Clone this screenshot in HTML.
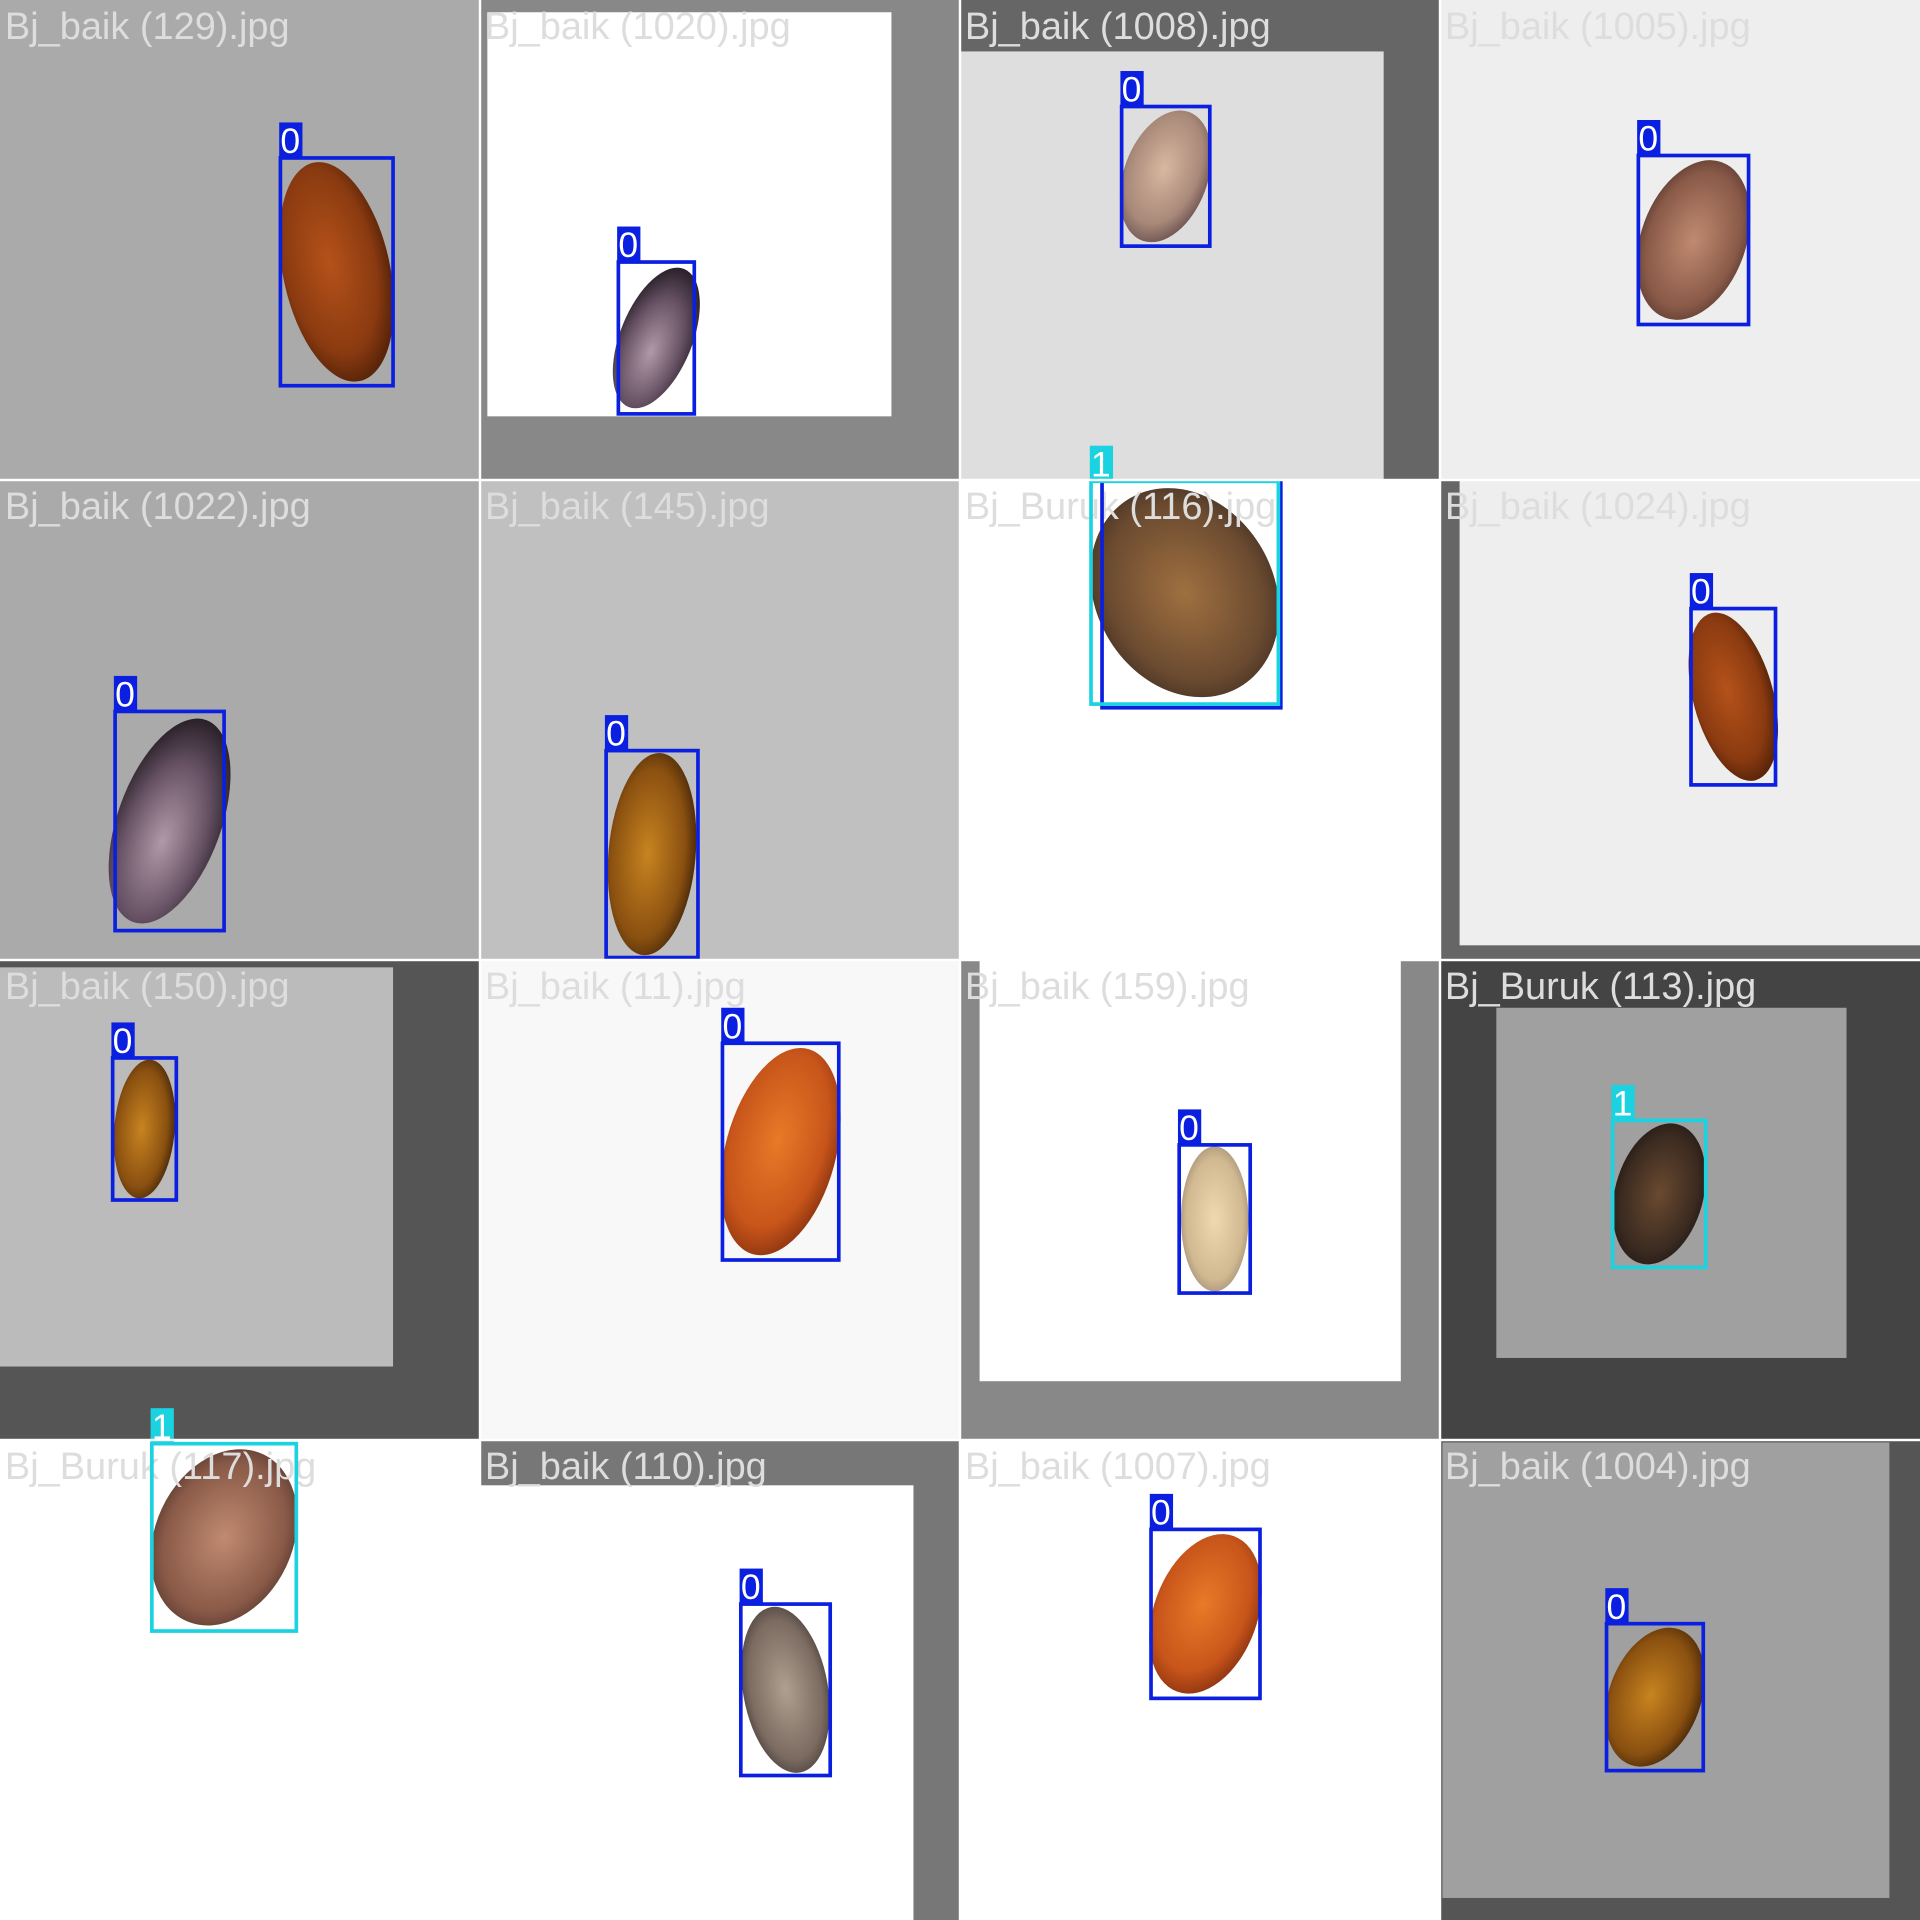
<!DOCTYPE html>
<html><head><meta charset="utf-8"><style>
html,body{margin:0;padding:0;background:#fff;width:1920px;height:1920px;overflow:hidden}
svg{display:block}
text{font-family:"Liberation Sans",Arial,sans-serif}
</style></head><body>
<svg id="mosaic" width="1920" height="1920" viewBox="0 0 1568 1568" xmlns="http://www.w3.org/2000/svg">
<defs>
<radialGradient id="gBrown" cx="45%" cy="45%" r="60%"><stop offset="0" stop-color="#b5521a"/><stop offset="0.7" stop-color="#8a3a10"/><stop offset="1" stop-color="#4a1e08"/></radialGradient>
<radialGradient id="gOrange" cx="45%" cy="45%" r="60%"><stop offset="0" stop-color="#e87a28"/><stop offset="0.7" stop-color="#c8551a"/><stop offset="1" stop-color="#8a3210"/></radialGradient>
<radialGradient id="gPink" cx="45%" cy="45%" r="60%"><stop offset="0" stop-color="#d8b8a0"/><stop offset="0.7" stop-color="#a88878"/><stop offset="1" stop-color="#6a5050"/></radialGradient>
<radialGradient id="gDark" cx="50%" cy="60%" r="60%"><stop offset="0" stop-color="#b09aa8"/><stop offset="0.6" stop-color="#6a5568"/><stop offset="1" stop-color="#2a2028"/></radialGradient>
<radialGradient id="gAmber" cx="45%" cy="50%" r="60%"><stop offset="0" stop-color="#c88420"/><stop offset="0.7" stop-color="#8a5010"/><stop offset="1" stop-color="#3a2008"/></radialGradient>
<radialGradient id="gBeige" cx="50%" cy="50%" r="60%"><stop offset="0" stop-color="#f0d8b0"/><stop offset="0.7" stop-color="#d0b890"/><stop offset="1" stop-color="#908070"/></radialGradient>
<radialGradient id="gMud" cx="50%" cy="50%" r="60%"><stop offset="0" stop-color="#a07040"/><stop offset="0.7" stop-color="#6a4a30"/><stop offset="1" stop-color="#3a2a20"/></radialGradient>
<radialGradient id="gBlack" cx="50%" cy="50%" r="60%"><stop offset="0" stop-color="#6a4a30"/><stop offset="0.7" stop-color="#3a2a20"/><stop offset="1" stop-color="#1a1410"/></radialGradient>
<radialGradient id="gRosy" cx="50%" cy="50%" r="60%"><stop offset="0" stop-color="#c08a70"/><stop offset="0.7" stop-color="#8a5a48"/><stop offset="1" stop-color="#4a3028"/></radialGradient>
<radialGradient id="gGrey" cx="50%" cy="50%" r="60%"><stop offset="0" stop-color="#b0a090"/><stop offset="0.7" stop-color="#7a6a60"/><stop offset="1" stop-color="#3a3030"/></radialGradient>
</defs>
<g id="tiles"></g>
</svg>
<script>
const NS='http://www.w3.org/2000/svg';
const root=document.getElementById('tiles');
function mk(tag,attrs,parent){const e=document.createElementNS(NS,tag);for(const k in attrs)e.setAttribute(k,attrs[k]);parent.appendChild(e);return e;}
const tiles=[
 [0,0,'#aaaaaa',null,'Bj_baik (129).jpg',[[229,129,321,315,'0','gBrown',-12]]],
 [1,0,'#888888',[398,10,728,340,'#ffffff'],'Bj_baik (1020).jpg',[[505,214,567,338,'0','gDark',22]]],
 [2,0,'#666666',[784,42,1130,392,'#dedede'],'Bj_baik (1008).jpg',[[916,87,988,201,'0','gPink',20]]],
 [3,0,'#eeeeee',null,'Bj_baik (1005).jpg',[[1338,127,1428,265,'0','gRosy',20]]],
 [0,1,'#aaaaaa',null,'Bj_baik (1022).jpg',[[94,581,183,760,'0','gDark',20]]],
 [1,1,'#c0c0c0',null,'Bj_baik (145).jpg',[[495,613,570,782,'0','gAmber',5]]],
 [2,1,'#ffffff',null,'Bj_Buruk (116).jpg',[[891,393,1044,575,'1','gMud',-30]]],
 [3,1,'#666666',[1192,392,1568,772,'#eeeeee'],'Bj_baik (1024).jpg',[[1381,497,1450,641,'0','gBrown',-15]]],
 [0,2,'#555555',[0,790,321,1116,'#bbbbbb'],'Bj_baik (150).jpg',[[92,864,144,980,'0','gAmber',5]]],
 [1,2,'#f8f8f8',null,'Bj_baik (11).jpg',[[590,852,685,1029,'0','gOrange',15]]],
 [2,2,'#888888',[800,784,1144,1128,'#ffffff'],'Bj_baik (159).jpg',[[963,935,1021,1056,'0','gBeige',0]]],
 [3,2,'#444444',[1222,823,1508,1109,'#a0a0a0'],'Bj_Buruk (113).jpg',[[1317,915,1393,1035,'1','gBlack',15]]],
 [0,3,'#ffffff',null,'Bj_Buruk (117).jpg',[[124,1179,242,1332,'1','gRosy',25]]],
 [1,3,'#777777',[392,1213,746,1568,'#ffffff'],'Bj_baik (110).jpg',[[605,1310,678,1450,'0','gGrey',-10]]],
 [2,3,'#ffffff',null,'Bj_baik (1007).jpg',[[940,1249,1029,1387,'0','gOrange',20]]],
 [3,3,'#555555',[1178,1178,1543,1550,'#a0a0a0'],'Bj_baik (1004).jpg',[[1312,1326,1391,1446,'0','gAmber',20]]]
];
tiles.forEach(t=>{
 const [c,r,bg,inner,title,seeds]=t;
 const x=c*392,y=r*392;
 const g=mk('g',{},root);
 
 
 mk('rect',{x:x,y:y,width:392,height:392,fill:bg},g);
 if(inner){mk('rect',{x:inner[0],y:inner[1],width:inner[2]-inner[0],height:inner[3]-inner[1],fill:inner[4]},g);}
 seeds.forEach(s=>{
  const [x1,y1,x2,y2,cls,grad,rot]=s;
  const cx=(x1+x2)/2,cy=(y1+y2)/2;
  const el=mk('ellipse',{cx:cx,cy:cy,rx:(x2-x1)/2*0.95,ry:(y2-y1)/2*0.98,fill:'url(#'+grad+')',transform:'rotate('+rot+' '+cx+' '+cy+')'},g);
  
  
 });
 const tx=mk('text',{x:x+4,y:y+32,'font-size':31,fill:'#dddddd'},g);
 tx.textContent=title;
 
 
 seeds.forEach(s=>{
  const [x1,y1,x2,y2,cls]=s;
  const col=cls==='1'?'#1ad2e0':'#0a1fe0';
  if(cls==='1' && x1===891){
   const b2=mk('rect',{x:900,y:393,width:146,height:185,fill:'none',stroke:'#0a1fe0','stroke-width':3},g);
   
   
  }
  const b=mk('rect',{x:x1,y:y1,width:x2-x1,height:y2-y1,fill:'none',stroke:col,'stroke-width':3},g);
  
  
  const tag=mk('rect',{x:x1-1,y:y1-29,width:19,height:29,fill:col},g);
  
  
  const lt=mk('text',{x:x1,y:y1-4,'font-size':29,fill:'#ffffff'},g);
  lt.textContent=cls;
  
  
 });
});
[392,784,1176].forEach(p=>{
 const v=mk('rect',{x:p-1,y:0,width:2,height:1568,fill:'#ffffff'},root);
 
 
 const h=mk('rect',{x:0,y:p-1,width:1568,height:2,fill:'#ffffff'},root);
 
 
});
</script>
</body></html>
